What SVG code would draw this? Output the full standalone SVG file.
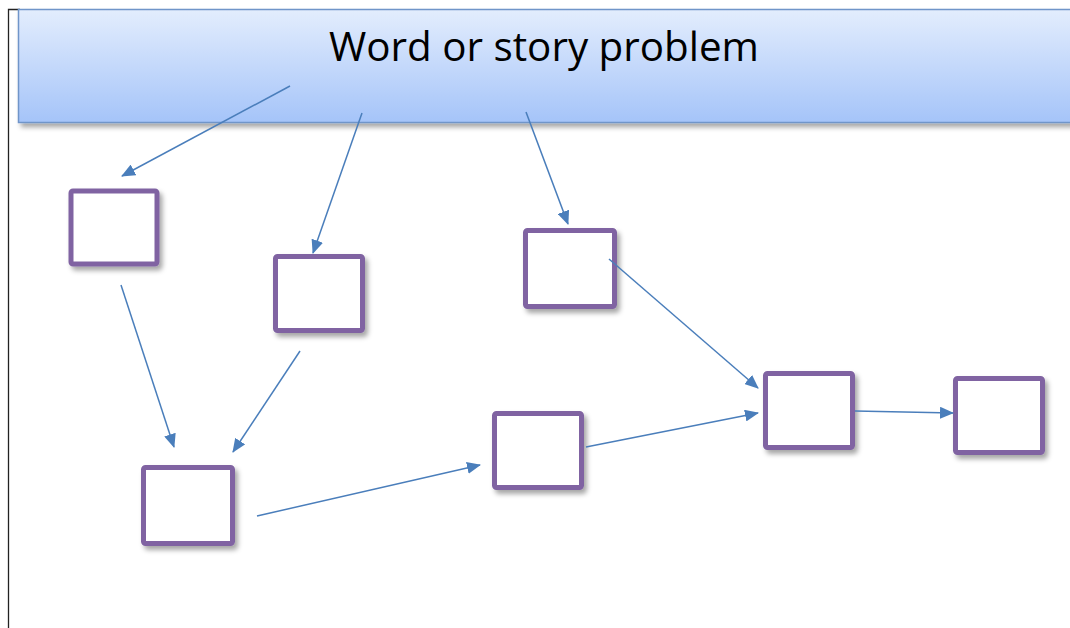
<svg xmlns="http://www.w3.org/2000/svg" width="1070" height="628" viewBox="0 0 1070 628">
<defs>
<linearGradient id="bannerGrad" x1="0" y1="0" x2="0" y2="1">
<stop offset="0" stop-color="#e3edfd"/>
<stop offset="1" stop-color="#a5c4f9"/>
</linearGradient>
<filter id="shadow" x="-20%" y="-20%" width="140%" height="150%">
<feDropShadow dx="3" dy="4" stdDeviation="2.5" flood-color="#000" flood-opacity="0.35"/>
</filter>
<marker id="arrow" markerUnits="userSpaceOnUse" markerWidth="14" markerHeight="12" refX="13" refY="6" orient="auto">
<path d="M0,0 L14,6 L0,12 Z" fill="#4a7ebb"/>
</marker>
<style>
.box{fill:#fff;stroke:#8064a2;stroke-width:5;filter:url(#shadow)}
.conn{stroke:#4a7ebb;stroke-width:1.5;fill:none;marker-end:url(#arrow)}
.title{font-family:"Open Sans","Liberation Sans",sans-serif;font-size:40px;fill:#000}
</style>
</defs>
<rect width="1070" height="628" fill="#fff"/>
<path d="M8.5,628 L8.5,9.5 L20,9.5" stroke="#222" stroke-width="1.3" fill="none"/>
<g id="banner">
<rect x="18.5" y="9.5" width="1060" height="113" fill="url(#bannerGrad)" stroke="#6f95c9" stroke-width="1.5" filter="url(#shadow)"/>
<text class="title" x="544" y="61" text-anchor="middle" textLength="430" lengthAdjust="spacingAndGlyphs">Word or story problem</text>
</g>
<g id="node1"><rect class="box" x="71" y="191" width="86" height="73" rx="2"/></g>
<g id="node2"><rect class="box" x="275.5" y="256.5" width="87" height="74" rx="2"/></g>
<g id="node3"><rect class="box" x="143.5" y="467.5" width="89" height="76" rx="2"/></g>
<g id="node4"><rect class="box" x="525.5" y="230.5" width="89" height="76" rx="2"/></g>
<g id="node5"><rect class="box" x="494.5" y="413.5" width="87" height="74" rx="2"/></g>
<g id="node6"><rect class="box" x="765.5" y="373.5" width="87" height="74" rx="2"/></g>
<g id="node7"><rect class="box" x="955.5" y="378.5" width="87" height="74" rx="2"/></g>
<g id="connectors">
<line class="conn" x1="290" y1="86" x2="122" y2="176"/>
<line class="conn" x1="362" y1="113" x2="313" y2="253"/>
<line class="conn" x1="526" y1="112" x2="568" y2="224"/>
<line class="conn" x1="121" y1="285" x2="174" y2="447"/>
<line class="conn" x1="300" y1="351" x2="233" y2="452"/>
<line class="conn" x1="257" y1="516" x2="480" y2="465"/>
<line class="conn" x1="586" y1="447" x2="758" y2="413"/>
<line class="conn" x1="609" y1="259" x2="758" y2="388"/>
<line class="conn" x1="855" y1="411" x2="953" y2="413"/>
</g>
</svg>
